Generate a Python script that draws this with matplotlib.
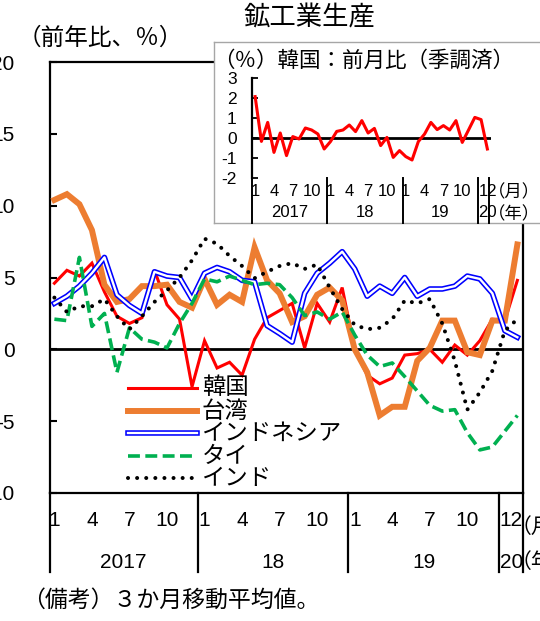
import matplotlib
matplotlib.use("Agg")
import matplotlib.pyplot as plt
from matplotlib.transforms import blended_transform_factory

plt.rcParams['font.family'] = ['Liberation Sans', 'Noto Sans CJK JP']
plt.rcParams['axes.unicode_minus'] = False
CJK = ['Noto Sans CJK JP', 'DejaVu Sans']

# ---------------- data ----------------
months = list(range(38))  # 2017/1 .. 2020/2
korea = [4.6, 5.5, 5.1, 6.0, 4.0, 2.3, 1.8, 2.2, 5.5, 3.1, 2.1, -2.6,
         0.6, -1.3, -0.9, -1.8, 0.7, 2.2, 2.7, 3.2, 0.1, 3.2, 1.9, 4.3,
         0.0, -1.8, -2.4, -2.0, -0.4, -0.3, 0.0, -0.9, 0.3, -0.4, 0.6, 2.1,
         2.0, 4.8]
taiwan = [10.4, 10.8, 10.1, 8.3, 4.5, 3.3, 3.5, 4.4, 4.4, 4.5, 3.3, 2.9,
          4.9, 3.1, 3.8, 3.3, 7.1, 4.8, 3.9, 1.9, 2.3, 3.8, 4.3, 3.4,
          0.0, -1.6, -4.6, -4.0, -4.0, -0.8, 0.1, 2.0, 2.0, -0.2, -0.4, 2.0,
          2.0, 7.3]
indonesia = [3.2, 3.7, 4.4, 5.3, 6.4, 3.8, 3.05, 2.5, 5.4, 5.1, 5.0, 3.5,
             5.3, 5.7, 5.4, 4.8, 4.7, 1.65, 1.1, 0.5, 3.9, 5.3, 6.0, 6.8,
             5.6, 3.7, 4.4, 3.9, 5.0, 3.7, 4.2, 4.2, 4.4, 5.1, 4.9, 3.9,
             1.3, 0.84]
thailand = [2.1, 2.0, 6.4, 1.6, 2.5, -1.6, 1.5, 0.7, 0.5, 0.1, 1.8, 3.2,
            4.9, 4.7, 5.1, 4.8, 4.5, 4.6, 4.5, 3.6, 2.35, 2.6, 2.1, 2.6,
            1.0, -0.4, -1.2, -0.95, -1.9, -2.9, -3.9, -4.3, -4.2, -5.8, -7.0, -6.8,
            -5.7, -4.6]
india = [3.6, 2.6, 3.0, 3.0, 3.5, 2.3, 1.4, 2.3, 3.3, 4.1, 5.0, 6.2,
         7.7, 7.35, 6.5, 5.8, 4.95, 5.4, 5.8, 6.0, 5.6, 5.9, 4.3, 2.8,
         1.7, 1.4, 1.5, 2.1, 3.4, 3.2, 3.5, 1.8, -0.8, -4.2, -3.0, -1.5,
         1.3, 2.1]
korea_mom = [2.07, -0.17, 0.78, -0.72, 0.25, -0.88, 0.07, -0.05, 0.5, 0.4, 0.2, -0.55,
             -0.18, 0.33, 0.4, 0.65, 0.32, 0.87, 0.25, 0.48, -0.38, 0.03, -0.97, -0.63,
             -0.93, -1.1, -0.18, 0.2, 0.78, 0.42, 0.62, 0.4, 0.87, -0.22, 0.4, 1.03,
             0.92, -0.55]

series_names = ['韓国', '台湾', 'インドネシア', 'タイ', 'インド']
month_tick_pos = [0, 3, 6, 9, 12, 15, 18, 21, 24, 27, 30, 33]
month_tick_lab = ['1', '4', '7', '10'] * 3
year_pos = [5.5, 17.5, 29.5]
year_lab = ['2017', '18', '19']
yticks_main = [-10, -5, 0, 5, 10, 15, 20]
yticks_inset = [-2, -1, 0, 1, 2, 3]

# ---------------- figure ----------------
W, H = 540, 621
fig = plt.figure(figsize=(W / 100, H / 100), dpi=100)


def fx(px):
    return px / W


def fy(py):
    return 1 - py / H


ax = fig.add_axes([fx(50), fy(493), 473 / W, 431 / H])
ax.set_xlim(-0.35, 37.45)
ax.set_ylim(-10, 20)
for s in ax.spines.values():
    s.set_color('black')
    s.set_linewidth(1.6)
ax.set_xticks([])
ax.set_yticks(yticks_main)
ax.set_yticklabels([str(v) for v in yticks_main])
ax.tick_params(axis='y', direction='in', length=5, width=1.5, pad=25.5, labelsize=15)
ax.axhline(0, color='black', lw=2.0, zorder=2)

ST = {}
ST['韓国'] = dict(color='#ff0000', lw=2.2, solid_joinstyle='miter')
ST['台湾'] = dict(color='#ed7d31', lw=4.3, solid_joinstyle='miter')
ST['タイ'] = dict(color='#00b050', lw=2.6, linestyle=(0, (3.3, 1.5)))
ST['インド'] = dict(color='black', lw=2.9, linestyle=(0, (0.01, 2.25)), dash_capstyle='round')

ax.plot(months, korea, zorder=3, **ST['韓国'])
ax.plot(months, taiwan, zorder=4, **ST['台湾'])
ax.plot(months, indonesia, color='#0000ff', lw=4.0, zorder=5)
ax.plot(months, indonesia, color='white', lw=1.7, zorder=5.1)
ax.plot(months, thailand, zorder=6, **ST['タイ'])
ax.plot(months, india, zorder=7, **ST['インド'])

# legend (manual)
lx0, lx1, tx = (128 - 50) / 473, (197 - 50) / 473, (202 - 50) / 473
rows = [(493 - py) / 431 for py in (388, 411, 433, 456, 478)]
for name, yy in zip(series_names, rows):
    if name == 'インドネシア':
        ax.plot([lx0, lx1], [yy, yy], transform=ax.transAxes, color='#0000ff', lw=4.0, zorder=8)
        ax.plot([lx0, lx1], [yy, yy], transform=ax.transAxes, color='white', lw=1.7, zorder=8.1)
    else:
        ax.plot([lx0, lx1], [yy, yy], transform=ax.transAxes, zorder=8, **ST[name])
    ax.text(tx, yy, name, transform=ax.transAxes, fontsize=16.8, va='center', ha='left',
            zorder=9, family=CJK)

# category axis below
bt = blended_transform_factory(ax.transData, ax.transAxes)
ybot = (493 - 572) / 431
for s in [ax.get_xlim()[0], 11.5, 23.5, 35.5, ax.get_xlim()[1]]:
    ax.plot([s, s], [0, ybot], transform=bt, color='black', lw=1.6, clip_on=False)
ym = (493 - 520) / 431
yy_ = (493 - 562) / 431
for p, l in zip(month_tick_pos, month_tick_lab):
    ax.text(p, ym, l, transform=bt, ha='center', va='center', fontsize=15)
for p, l in zip(year_pos, year_lab):
    ax.text(p, yy_, l, transform=bt, ha='center', va='center', fontsize=15)
ax.text(35.6, ym, '12', transform=bt, ha='left', va='center', fontsize=15)
ax.text(35.6, yy_, '20', transform=bt, ha='left', va='center', fontsize=15)
fig.text(fx(511), fy(527), '（月）', ha='left', va='center', fontsize=15, family=CJK)
fig.text(fx(511), fy(562), '（年）', ha='left', va='center', fontsize=15, family=CJK)

# texts
fig.text(fx(309), fy(18), '鉱工業生産', ha='center', va='center', fontsize=19, family=CJK)
fig.text(fx(18), fy(38), '（前年比、％）', ha='left', va='center', fontsize=17, family=CJK)
fig.text(fx(22), fy(600), '（備考）３か月移動平均値。', ha='left', va='center',
         fontsize=16.5, family=CJK)

# ---------------- inset ----------------
axb = fig.add_axes([fx(214), fy(223), (570 - 214) / W, 181 / H], zorder=5)
axb.set_xticks([])
axb.set_yticks([])
for s in axb.spines.values():
    s.set_color('#a6a6a6')
    s.set_linewidth(1.0)
axb.set_facecolor('white')

axi = fig.add_axes([fx(252), fy(178), (490.5 - 252) / W, 100 / H], zorder=6)
axi.patch.set_alpha(0)
axi.set_xlim(-0.5, 37.5)
axi.set_ylim(-2, 3)
for k in ['top', 'right', 'bottom']:
    axi.spines[k].set_visible(False)
axi.spines['left'].set_linewidth(1.6)
axi.set_xticks([])
axi.set_yticks(yticks_inset)
axi.set_yticklabels([str(v) for v in yticks_inset])
axi.tick_params(axis='y', direction='in', length=4, width=1.3, pad=11, labelsize=12.5)
axi.axhline(0, color='black', lw=2.0, zorder=2)
axi.plot(months, korea_mom, color='#ff0000', lw=2.2, zorder=3)

bti = blended_transform_factory(axi.transData, axi.transAxes)
ybi = (178 - 223) / 100
for s in [-0.5, 11.5, 23.5, 35.5, 37.2]:
    axi.plot([s, s], [0, ybi], transform=bti, color='black', lw=1.4, clip_on=False)
ymi = (178 - 192) / 100
yyi = (178 - 213) / 100
for p, l in zip(month_tick_pos, month_tick_lab):
    axi.text(p, ymi, l, transform=bti, ha='center', va='center', fontsize=12)
for p, l in zip(year_pos, year_lab):
    axi.text(p, yyi, l, transform=bti, ha='center', va='center', fontsize=12)
axi.text(35.6, ymi, '12', transform=bti, ha='left', va='center', fontsize=12)
axi.text(35.6, yyi, '20', transform=bti, ha='left', va='center', fontsize=12)
fig.text(fx(488), fy(192), '（月）', ha='left', va='center', fontsize=12.5, zorder=7, family=CJK)
fig.text(fx(488), fy(214), '（年）', ha='left', va='center', fontsize=12.5, zorder=7, family=CJK)
fig.text(fx(213), fy(61), '（％）韓国：前月比（季調済）', ha='left', va='center',
         fontsize=15.5, zorder=7, family=CJK)

fig.savefig('out.png', dpi=100)
